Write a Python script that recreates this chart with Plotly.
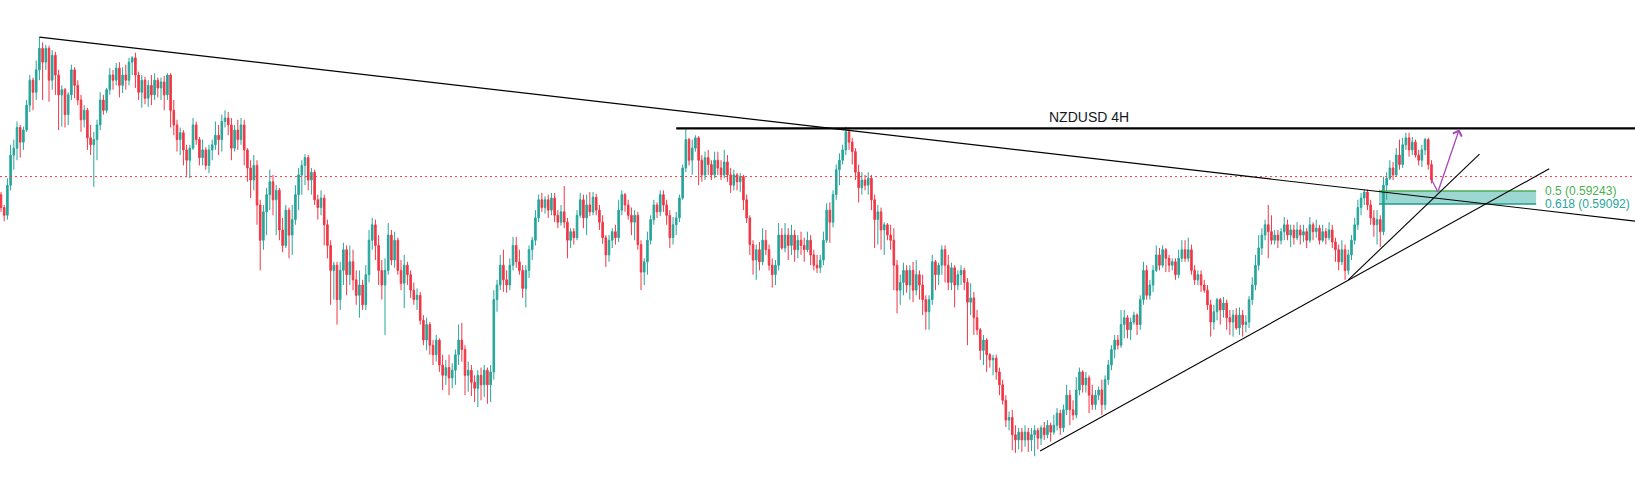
import plotly.graph_objects as go

# NZDUSD 4H candles (oldest -> newest)
opens = [
    0.5920, 0.5905, 0.5896, 0.5931, 0.5966, 0.5974, 0.5998, 0.5981, 0.5995, 0.6024,
    0.6053, 0.6039, 0.6065, 0.6090, 0.6074, 0.6090, 0.6053, 0.6082, 0.6059, 0.6036,
    0.6042, 0.6013, 0.6036, 0.6065, 0.6047, 0.6030, 0.6007, 0.6018, 0.5986, 0.5978,
    0.5984, 0.6001, 0.6030, 0.6018, 0.6042, 0.6059, 0.6053, 0.6067, 0.6047, 0.6059,
    0.6053, 0.6074, 0.6079, 0.6059, 0.6039, 0.6053, 0.6032, 0.6047, 0.6036, 0.6053,
    0.6044, 0.6051, 0.6036, 0.6059, 0.6018, 0.6001, 0.5984, 0.5992, 0.5972, 0.5960,
    0.5974, 0.6001, 0.5984, 0.5963, 0.5972, 0.5954, 0.5972, 0.5978, 0.5989, 0.5984,
    0.6005, 0.6009, 0.6001, 0.5974, 0.5995, 0.5984, 0.6001, 0.5972, 0.5951, 0.5937,
    0.5954, 0.5908, 0.5867, 0.5900, 0.5920, 0.5935, 0.5914, 0.5925, 0.5879, 0.5861,
    0.5902, 0.5873, 0.5891, 0.5920, 0.5943, 0.5954, 0.5963, 0.5937, 0.5946, 0.5914,
    0.5905, 0.5916, 0.5885, 0.5861, 0.5832, 0.5838, 0.5798, 0.5832, 0.5856, 0.5827,
    0.5842, 0.5821, 0.5803, 0.5815, 0.5792, 0.5827, 0.5867, 0.5885, 0.5861, 0.5832,
    0.5815, 0.5832, 0.5873, 0.5844, 0.5867, 0.5832, 0.5817, 0.5838, 0.5827, 0.5809,
    0.5798, 0.5803, 0.5774, 0.5751, 0.5769, 0.5745, 0.5734, 0.5751, 0.5722, 0.5710,
    0.5719, 0.5707, 0.5716, 0.5734, 0.5751, 0.5740, 0.5710, 0.5716, 0.5702, 0.5695,
    0.5710, 0.5699, 0.5716, 0.5699, 0.5714, 0.5798, 0.5815, 0.5838, 0.5821, 0.5815,
    0.5838, 0.5861, 0.5842, 0.5832, 0.5811, 0.5832, 0.5856, 0.5867, 0.5893, 0.5914,
    0.5905, 0.5914, 0.5902, 0.5916, 0.5896, 0.5888, 0.5900, 0.5888, 0.5867, 0.5877,
    0.5870, 0.5896, 0.5914, 0.5893, 0.5908, 0.5900, 0.5917, 0.5902, 0.5888, 0.5870,
    0.5850, 0.5867, 0.5877, 0.5870, 0.5902, 0.5920, 0.5908, 0.5896, 0.5888, 0.5896,
    0.5862, 0.5830, 0.5842, 0.5867, 0.5891, 0.5908, 0.5900, 0.5920, 0.5908, 0.5896,
    0.5870, 0.5885, 0.5893, 0.5916, 0.5951, 0.5984, 0.5960, 0.5974, 0.5986, 0.5960,
    0.5943, 0.5963, 0.5955, 0.5943, 0.5960, 0.5951, 0.5943, 0.5958, 0.5943, 0.5931,
    0.5943, 0.5935, 0.5941, 0.5914, 0.5893, 0.5862, 0.5844, 0.5856, 0.5842, 0.5867,
    0.5856, 0.5838, 0.5827, 0.5838, 0.5873, 0.5858, 0.5873, 0.5861, 0.5873, 0.5856,
    0.5867, 0.5861, 0.5856, 0.5867, 0.5850, 0.5838, 0.5835, 0.5844, 0.5867, 0.5902,
    0.5888, 0.5920, 0.5949, 0.5960, 0.5972, 0.5993, 0.5981, 0.5970, 0.5946, 0.5928,
    0.5937, 0.5931, 0.5939, 0.5914, 0.5891, 0.5900, 0.5879, 0.5885, 0.5873, 0.5867,
    0.5838, 0.5809, 0.5818, 0.5832, 0.5815, 0.5832, 0.5809, 0.5827, 0.5815, 0.5798,
    0.5784, 0.5798, 0.5842, 0.5827, 0.5838, 0.5856, 0.5838, 0.5818, 0.5835, 0.5815,
    0.5827, 0.5832, 0.5818, 0.5795, 0.5800, 0.5777, 0.5763, 0.5739, 0.5751, 0.5734,
    0.5728, 0.5730, 0.5714, 0.5699, 0.5681, 0.5658, 0.5661, 0.5641, 0.5635, 0.5644,
    0.5635, 0.5644, 0.5635, 0.5641, 0.5646, 0.5637, 0.5649, 0.5641, 0.5652, 0.5644,
    0.5652, 0.5666, 0.5649, 0.5670, 0.5687, 0.5670, 0.5664, 0.5693, 0.5714, 0.5699,
    0.5707, 0.5687, 0.5676, 0.5687, 0.5693, 0.5676, 0.5705, 0.5722, 0.5740, 0.5751,
    0.5745, 0.5769, 0.5777, 0.5763, 0.5772, 0.5780, 0.5769, 0.5798, 0.5832, 0.5803,
    0.5815, 0.5832, 0.5850, 0.5838, 0.5856, 0.5846, 0.5838, 0.5842, 0.5827, 0.5846,
    0.5856, 0.5846, 0.5856, 0.5832, 0.5821, 0.5827, 0.5815, 0.5809, 0.5792, 0.5772,
    0.5784, 0.5798, 0.5786, 0.5794, 0.5777, 0.5772, 0.5780, 0.5765, 0.5780, 0.5769,
    0.5772, 0.5798, 0.5815, 0.5838, 0.5858, 0.5873, 0.5885, 0.5877, 0.5867, 0.5873,
    0.5867, 0.5877, 0.5885, 0.5873, 0.5879, 0.5870, 0.5879, 0.5873, 0.5877, 0.5867,
    0.5885, 0.5877, 0.5881, 0.5867, 0.5877, 0.5870, 0.5879, 0.5865, 0.5856, 0.5842,
    0.5856, 0.5832, 0.5850, 0.5867, 0.5885, 0.5905, 0.5916, 0.5923, 0.5908, 0.5893,
    0.5885, 0.5891, 0.5877, 0.5931, 0.5939, 0.5951, 0.5943, 0.5966, 0.5955, 0.5978,
    0.5986, 0.5972, 0.5981, 0.5966, 0.5960, 0.5972, 0.5984, 0.5955,
]
highs = [
    0.5923, 0.5908, 0.5939, 0.5978, 0.5984, 0.6005, 0.6001, 0.5999, 0.6030, 0.6059,
    0.6056, 0.6076, 0.6103, 0.6097, 0.6094, 0.6093, 0.6088, 0.6086, 0.6065, 0.6047,
    0.6044, 0.6039, 0.6071, 0.6068, 0.6053, 0.6036, 0.6024, 0.6021, 0.6001, 0.5993,
    0.6007, 0.6039, 0.6036, 0.6044, 0.6067, 0.6065, 0.6073, 0.6074, 0.6068, 0.6071,
    0.6079, 0.6081, 0.6085, 0.6063, 0.6059, 0.6057, 0.6053, 0.6059, 0.6061, 0.6056,
    0.6056, 0.6058, 0.6061, 0.6061, 0.6030, 0.6007, 0.5998, 0.5995, 0.5978, 0.5978,
    0.6009, 0.6005, 0.5987, 0.5984, 0.5975, 0.5978, 0.5984, 0.6005, 0.6001, 0.6013,
    0.6018, 0.6016, 0.6009, 0.6001, 0.6007, 0.6009, 0.6007, 0.5974, 0.5960, 0.5966,
    0.5960, 0.5914, 0.5908, 0.5928, 0.5949, 0.5943, 0.5931, 0.5928, 0.5893, 0.5908,
    0.5905, 0.5908, 0.5931, 0.5951, 0.5960, 0.5967, 0.5966, 0.5951, 0.5949, 0.5920,
    0.5925, 0.5920, 0.5891, 0.5867, 0.5842, 0.5842, 0.5842, 0.5864, 0.5861, 0.5861,
    0.5856, 0.5832, 0.5832, 0.5821, 0.5838, 0.5879, 0.5893, 0.5891, 0.5873, 0.5844,
    0.5846, 0.5887, 0.5879, 0.5877, 0.5870, 0.5844, 0.5850, 0.5842, 0.5832, 0.5818,
    0.5811, 0.5807, 0.5780, 0.5777, 0.5772, 0.5751, 0.5757, 0.5753, 0.5734, 0.5728,
    0.5734, 0.5724, 0.5740, 0.5769, 0.5771, 0.5745, 0.5726, 0.5722, 0.5710, 0.5716,
    0.5719, 0.5722, 0.5719, 0.5722, 0.5809, 0.5821, 0.5850, 0.5856, 0.5832, 0.5846,
    0.5871, 0.5871, 0.5856, 0.5838, 0.5838, 0.5861, 0.5871, 0.5902, 0.5920, 0.5922,
    0.5918, 0.5920, 0.5922, 0.5922, 0.5902, 0.5908, 0.5930, 0.5893, 0.5881, 0.5881,
    0.5902, 0.5922, 0.5920, 0.5920, 0.5923, 0.5923, 0.5921, 0.5908, 0.5896, 0.5873,
    0.5873, 0.5881, 0.5885, 0.5914, 0.5925, 0.5922, 0.5914, 0.5905, 0.5902, 0.5900,
    0.5867, 0.5846, 0.5877, 0.5896, 0.5914, 0.5911, 0.5925, 0.5925, 0.5914, 0.5902,
    0.5894, 0.5900, 0.5920, 0.5955, 0.5996, 0.5986, 0.5984, 0.5989, 0.5988, 0.5966,
    0.5970, 0.5972, 0.5960, 0.5970, 0.5970, 0.5960, 0.5972, 0.5966, 0.5951, 0.5949,
    0.5945, 0.5945, 0.5943, 0.5920, 0.5896, 0.5867, 0.5862, 0.5865, 0.5881, 0.5879,
    0.5862, 0.5846, 0.5844, 0.5887, 0.5881, 0.5887, 0.5881, 0.5885, 0.5879, 0.5873,
    0.5877, 0.5870, 0.5877, 0.5873, 0.5856, 0.5850, 0.5850, 0.5877, 0.5910, 0.5911,
    0.5925, 0.5955, 0.5968, 0.5978, 0.5999, 0.5998, 0.5986, 0.5974, 0.5955, 0.5946,
    0.5943, 0.5946, 0.5943, 0.5920, 0.5908, 0.5905, 0.5888, 0.5887, 0.5885, 0.5881,
    0.5844, 0.5827, 0.5841, 0.5838, 0.5838, 0.5842, 0.5844, 0.5832, 0.5827, 0.5803,
    0.5803, 0.5850, 0.5844, 0.5841, 0.5861, 0.5861, 0.5850, 0.5841, 0.5838, 0.5832,
    0.5838, 0.5835, 0.5823, 0.5817, 0.5807, 0.5786, 0.5765, 0.5757, 0.5753, 0.5736,
    0.5734, 0.5734, 0.5719, 0.5705, 0.5687, 0.5668, 0.5670, 0.5652, 0.5649, 0.5649,
    0.5652, 0.5649, 0.5649, 0.5652, 0.5649, 0.5652, 0.5656, 0.5658, 0.5655, 0.5664,
    0.5672, 0.5670, 0.5676, 0.5699, 0.5693, 0.5681, 0.5708, 0.5719, 0.5716, 0.5714,
    0.5710, 0.5699, 0.5693, 0.5697, 0.5705, 0.5710, 0.5728, 0.5745, 0.5757, 0.5757,
    0.5786, 0.5786, 0.5780, 0.5777, 0.5784, 0.5782, 0.5803, 0.5842, 0.5838, 0.5821,
    0.5838, 0.5861, 0.5858, 0.5861, 0.5858, 0.5850, 0.5846, 0.5846, 0.5856, 0.5867,
    0.5867, 0.5870, 0.5862, 0.5838, 0.5832, 0.5832, 0.5821, 0.5815, 0.5798, 0.5792,
    0.5800, 0.5800, 0.5801, 0.5798, 0.5786, 0.5786, 0.5788, 0.5789, 0.5786, 0.5780,
    0.5802, 0.5824, 0.5850, 0.5873, 0.5881, 0.5891, 0.5908, 0.5896, 0.5879, 0.5879,
    0.5881, 0.5894, 0.5891, 0.5885, 0.5885, 0.5888, 0.5885, 0.5885, 0.5881, 0.5894,
    0.5888, 0.5891, 0.5885, 0.5885, 0.5881, 0.5888, 0.5885, 0.5870, 0.5862, 0.5867,
    0.5862, 0.5856, 0.5873, 0.5893, 0.5914, 0.5922, 0.5926, 0.5926, 0.5914, 0.5902,
    0.5902, 0.5896, 0.5941, 0.5946, 0.5960, 0.5958, 0.5974, 0.5984, 0.5986, 0.5992,
    0.5992, 0.5987, 0.5984, 0.5972, 0.5978, 0.5986, 0.5986, 0.5960,
]
lows = [
    0.5900, 0.5889, 0.5891, 0.5925, 0.5949, 0.5960, 0.5963, 0.5972, 0.5993, 0.6016,
    0.6018, 0.6030, 0.6053, 0.6030, 0.6065, 0.6028, 0.6042, 0.6036, 0.5995, 0.5999,
    0.5998, 0.6001, 0.6030, 0.6032, 0.6024, 0.5993, 0.5998, 0.5972, 0.5966, 0.5929,
    0.5960, 0.5995, 0.6013, 0.6015, 0.6036, 0.6042, 0.6047, 0.6033, 0.6038, 0.6042,
    0.6047, 0.6059, 0.6044, 0.6030, 0.6021, 0.6025, 0.6022, 0.6024, 0.6030, 0.6033,
    0.6030, 0.6018, 0.6030, 0.5998, 0.5989, 0.5970, 0.5966, 0.5954, 0.5942, 0.5939,
    0.5972, 0.5978, 0.5954, 0.5954, 0.5949, 0.5945, 0.5960, 0.5972, 0.5966, 0.5970,
    0.5998, 0.5989, 0.5960, 0.5970, 0.5972, 0.5978, 0.5954, 0.5935, 0.5916, 0.5925,
    0.5885, 0.5832, 0.5856, 0.5873, 0.5902, 0.5896, 0.5873, 0.5867, 0.5853, 0.5858,
    0.5846, 0.5850, 0.5885, 0.5902, 0.5920, 0.5931, 0.5925, 0.5920, 0.5908, 0.5891,
    0.5896, 0.5861, 0.5846, 0.5792, 0.5798, 0.5769, 0.5786, 0.5815, 0.5803, 0.5815,
    0.5809, 0.5792, 0.5777, 0.5786, 0.5786, 0.5818, 0.5856, 0.5844, 0.5815, 0.5798,
    0.5757, 0.5827, 0.5838, 0.5835, 0.5827, 0.5809, 0.5788, 0.5815, 0.5800, 0.5792,
    0.5786, 0.5769, 0.5745, 0.5739, 0.5734, 0.5722, 0.5726, 0.5714, 0.5693, 0.5699,
    0.5687, 0.5695, 0.5699, 0.5722, 0.5726, 0.5687, 0.5691, 0.5686, 0.5679, 0.5673,
    0.5681, 0.5685, 0.5677, 0.5679, 0.5705, 0.5784, 0.5809, 0.5807, 0.5806, 0.5809,
    0.5832, 0.5835, 0.5827, 0.5800, 0.5789, 0.5823, 0.5844, 0.5861, 0.5888, 0.5900,
    0.5898, 0.5893, 0.5896, 0.5888, 0.5881, 0.5884, 0.5881, 0.5846, 0.5858, 0.5862,
    0.5867, 0.5893, 0.5881, 0.5873, 0.5895, 0.5896, 0.5896, 0.5879, 0.5863, 0.5836,
    0.5842, 0.5858, 0.5862, 0.5865, 0.5896, 0.5900, 0.5891, 0.5873, 0.5867, 0.5856,
    0.5809, 0.5815, 0.5827, 0.5862, 0.5885, 0.5893, 0.5895, 0.5900, 0.5885, 0.5858,
    0.5862, 0.5873, 0.5888, 0.5914, 0.5946, 0.5954, 0.5943, 0.5970, 0.5931, 0.5935,
    0.5937, 0.5943, 0.5937, 0.5939, 0.5943, 0.5937, 0.5939, 0.5935, 0.5922, 0.5925,
    0.5925, 0.5923, 0.5902, 0.5887, 0.5850, 0.5827, 0.5821, 0.5832, 0.5838, 0.5850,
    0.5832, 0.5812, 0.5815, 0.5832, 0.5856, 0.5853, 0.5844, 0.5850, 0.5842, 0.5846,
    0.5850, 0.5842, 0.5853, 0.5838, 0.5832, 0.5829, 0.5829, 0.5838, 0.5864, 0.5864,
    0.5882, 0.5914, 0.5931, 0.5955, 0.5966, 0.5972, 0.5955, 0.5937, 0.5911, 0.5920,
    0.5925, 0.5920, 0.5902, 0.5858, 0.5862, 0.5856, 0.5850, 0.5867, 0.5856, 0.5809,
    0.5782, 0.5792, 0.5803, 0.5806, 0.5798, 0.5795, 0.5803, 0.5798, 0.5780, 0.5763,
    0.5763, 0.5792, 0.5809, 0.5815, 0.5827, 0.5818, 0.5809, 0.5809, 0.5789, 0.5809,
    0.5815, 0.5809, 0.5745, 0.5780, 0.5757, 0.5757, 0.5728, 0.5722, 0.5714, 0.5719,
    0.5710, 0.5705, 0.5687, 0.5676, 0.5650, 0.5646, 0.5623, 0.5620, 0.5624, 0.5621,
    0.5627, 0.5621, 0.5622, 0.5616, 0.5624, 0.5629, 0.5635, 0.5637, 0.5633, 0.5641,
    0.5646, 0.5641, 0.5644, 0.5664, 0.5652, 0.5658, 0.5660, 0.5687, 0.5690, 0.5690,
    0.5666, 0.5670, 0.5670, 0.5681, 0.5664, 0.5670, 0.5699, 0.5716, 0.5730, 0.5740,
    0.5742, 0.5753, 0.5753, 0.5751, 0.5769, 0.5757, 0.5763, 0.5792, 0.5798, 0.5798,
    0.5807, 0.5830, 0.5832, 0.5835, 0.5830, 0.5830, 0.5832, 0.5821, 0.5823, 0.5842,
    0.5842, 0.5842, 0.5827, 0.5815, 0.5815, 0.5807, 0.5806, 0.5786, 0.5755, 0.5763,
    0.5774, 0.5769, 0.5777, 0.5763, 0.5757, 0.5755, 0.5763, 0.5757, 0.5755, 0.5760,
    0.5765, 0.5792, 0.5809, 0.5832, 0.5850, 0.5867, 0.5846, 0.5862, 0.5862, 0.5858,
    0.5862, 0.5867, 0.5867, 0.5859, 0.5862, 0.5867, 0.5862, 0.5865, 0.5858, 0.5864,
    0.5867, 0.5870, 0.5862, 0.5865, 0.5862, 0.5867, 0.5858, 0.5842, 0.5832, 0.5838,
    0.5821, 0.5827, 0.5844, 0.5862, 0.5879, 0.5896, 0.5908, 0.5902, 0.5885, 0.5871,
    0.5862, 0.5859, 0.5873, 0.5914, 0.5937, 0.5937, 0.5941, 0.5949, 0.5951, 0.5972,
    0.5964, 0.5966, 0.5963, 0.5954, 0.5952, 0.5966, 0.5949, 0.5933,
]
closes = [
    0.5905, 0.5896, 0.5931, 0.5966, 0.5974, 0.5998, 0.5981, 0.5995, 0.6024, 0.6053,
    0.6039, 0.6065, 0.6090, 0.6074, 0.6090, 0.6053, 0.6082, 0.6059, 0.6036, 0.6042,
    0.6013, 0.6036, 0.6065, 0.6047, 0.6030, 0.6007, 0.6018, 0.5986, 0.5978, 0.5984,
    0.6001, 0.6030, 0.6018, 0.6042, 0.6059, 0.6053, 0.6067, 0.6047, 0.6059, 0.6053,
    0.6074, 0.6079, 0.6059, 0.6039, 0.6053, 0.6032, 0.6047, 0.6036, 0.6053, 0.6044,
    0.6051, 0.6036, 0.6059, 0.6018, 0.6001, 0.5984, 0.5992, 0.5972, 0.5960, 0.5974,
    0.6001, 0.5984, 0.5963, 0.5972, 0.5954, 0.5972, 0.5978, 0.5989, 0.5984, 0.6005,
    0.6009, 0.6001, 0.5974, 0.5995, 0.5984, 0.6001, 0.5972, 0.5951, 0.5937, 0.5954,
    0.5908, 0.5867, 0.5900, 0.5920, 0.5935, 0.5914, 0.5925, 0.5879, 0.5861, 0.5902,
    0.5873, 0.5891, 0.5920, 0.5943, 0.5954, 0.5963, 0.5937, 0.5946, 0.5914, 0.5905,
    0.5916, 0.5885, 0.5861, 0.5832, 0.5838, 0.5798, 0.5832, 0.5856, 0.5827, 0.5842,
    0.5821, 0.5803, 0.5815, 0.5792, 0.5827, 0.5867, 0.5885, 0.5861, 0.5832, 0.5815,
    0.5832, 0.5873, 0.5844, 0.5867, 0.5832, 0.5817, 0.5838, 0.5827, 0.5809, 0.5798,
    0.5803, 0.5774, 0.5751, 0.5769, 0.5745, 0.5734, 0.5751, 0.5722, 0.5710, 0.5719,
    0.5707, 0.5716, 0.5734, 0.5751, 0.5740, 0.5710, 0.5716, 0.5702, 0.5695, 0.5710,
    0.5699, 0.5716, 0.5699, 0.5714, 0.5798, 0.5815, 0.5838, 0.5821, 0.5815, 0.5838,
    0.5861, 0.5842, 0.5832, 0.5811, 0.5832, 0.5856, 0.5867, 0.5893, 0.5914, 0.5905,
    0.5914, 0.5902, 0.5916, 0.5896, 0.5888, 0.5900, 0.5888, 0.5867, 0.5877, 0.5870,
    0.5896, 0.5914, 0.5893, 0.5908, 0.5900, 0.5917, 0.5902, 0.5888, 0.5870, 0.5850,
    0.5867, 0.5877, 0.5870, 0.5902, 0.5920, 0.5908, 0.5896, 0.5888, 0.5896, 0.5862,
    0.5830, 0.5842, 0.5867, 0.5891, 0.5908, 0.5900, 0.5920, 0.5908, 0.5896, 0.5870,
    0.5885, 0.5893, 0.5916, 0.5951, 0.5984, 0.5960, 0.5974, 0.5986, 0.5960, 0.5943,
    0.5963, 0.5955, 0.5943, 0.5960, 0.5951, 0.5943, 0.5958, 0.5943, 0.5931, 0.5943,
    0.5935, 0.5941, 0.5914, 0.5893, 0.5862, 0.5844, 0.5856, 0.5842, 0.5867, 0.5856,
    0.5838, 0.5827, 0.5838, 0.5873, 0.5858, 0.5873, 0.5861, 0.5873, 0.5856, 0.5867,
    0.5861, 0.5856, 0.5867, 0.5850, 0.5838, 0.5835, 0.5844, 0.5867, 0.5902, 0.5888,
    0.5920, 0.5949, 0.5960, 0.5972, 0.5993, 0.5981, 0.5970, 0.5946, 0.5928, 0.5937,
    0.5931, 0.5939, 0.5914, 0.5891, 0.5900, 0.5879, 0.5885, 0.5873, 0.5867, 0.5838,
    0.5809, 0.5818, 0.5832, 0.5815, 0.5832, 0.5809, 0.5827, 0.5815, 0.5798, 0.5784,
    0.5798, 0.5842, 0.5827, 0.5838, 0.5856, 0.5838, 0.5818, 0.5835, 0.5815, 0.5827,
    0.5832, 0.5818, 0.5795, 0.5800, 0.5777, 0.5763, 0.5739, 0.5751, 0.5734, 0.5728,
    0.5730, 0.5714, 0.5699, 0.5681, 0.5658, 0.5661, 0.5641, 0.5635, 0.5644, 0.5635,
    0.5644, 0.5635, 0.5641, 0.5646, 0.5637, 0.5649, 0.5641, 0.5652, 0.5644, 0.5652,
    0.5666, 0.5649, 0.5670, 0.5687, 0.5670, 0.5664, 0.5693, 0.5714, 0.5699, 0.5707,
    0.5687, 0.5676, 0.5687, 0.5693, 0.5676, 0.5705, 0.5722, 0.5740, 0.5751, 0.5745,
    0.5769, 0.5777, 0.5763, 0.5772, 0.5780, 0.5769, 0.5798, 0.5832, 0.5803, 0.5815,
    0.5832, 0.5850, 0.5838, 0.5856, 0.5846, 0.5838, 0.5842, 0.5827, 0.5846, 0.5856,
    0.5846, 0.5856, 0.5832, 0.5821, 0.5827, 0.5815, 0.5809, 0.5792, 0.5772, 0.5784,
    0.5798, 0.5786, 0.5794, 0.5777, 0.5772, 0.5780, 0.5765, 0.5780, 0.5769, 0.5772,
    0.5798, 0.5815, 0.5838, 0.5858, 0.5873, 0.5885, 0.5877, 0.5867, 0.5873, 0.5867,
    0.5877, 0.5885, 0.5873, 0.5879, 0.5870, 0.5879, 0.5873, 0.5877, 0.5867, 0.5885,
    0.5877, 0.5881, 0.5867, 0.5877, 0.5870, 0.5879, 0.5865, 0.5856, 0.5842, 0.5856,
    0.5832, 0.5850, 0.5867, 0.5885, 0.5905, 0.5916, 0.5923, 0.5908, 0.5893, 0.5885,
    0.5891, 0.5877, 0.5931, 0.5939, 0.5951, 0.5943, 0.5966, 0.5955, 0.5978, 0.5986,
    0.5972, 0.5981, 0.5966, 0.5960, 0.5972, 0.5984, 0.5955, 0.5937,
]

# drawings: (bar index, price)
down_trend = [(12, 0.6103), (264, 0.5995)]
resistance = (211, 0.5997)
up_trend_long = [(324.7, 0.5622), (483.8, 0.5950)]
up_trend_steep = [(421, 0.5821), (462, 0.5967)]
price_line = 0.5941
fib_levels = [0.59243, 0.59092]
fib_labels = ["0.5 (0.59243)", "0.618 (0.59092)"]
fib_span = (430.6, 479.7)
projection = [(447.1, 0.5937), (449.0, 0.5923), (455.7, 0.5996)]
title_text = "NZDUSD 4H"
title_pos = (340, 0.6010)

UP = "#26a69a"
DOWN = "#f23645"
X_RANGE = [-0.3125, 510.6]
Y_RANGE = [0.55884, 0.61462]

bars = list(range(len(closes)))

fig = go.Figure()
fig.add_trace(go.Candlestick(
    x=bars, open=opens, high=highs, low=lows, close=closes,
    increasing=dict(line=dict(color=UP, width=1), fillcolor=UP),
    decreasing=dict(line=dict(color=DOWN, width=1), fillcolor=DOWN),
    whiskerwidth=0, showlegend=False, hoverinfo="skip",
))

# last price line
fig.add_hline(y=price_line, line=dict(color=DOWN, width=1, dash="2px,3px"))

# fib zone
fig.add_shape(type="rect", x0=fib_span[0], x1=fib_span[1], y0=fib_levels[1], y1=fib_levels[0],
              fillcolor="rgba(38,166,154,0.45)", line_width=0, layer="below")
fig.add_shape(type="line", x0=fib_span[0], x1=fib_span[1], y0=fib_levels[0], y1=fib_levels[0],
              line=dict(color="#4caf50", width=1.5))
fig.add_shape(type="line", x0=fib_span[0], x1=fib_span[1], y0=fib_levels[1], y1=fib_levels[1],
              line=dict(color="#1e9c88", width=1.5))
for lvl, txt, col in zip(fib_levels, fib_labels, ["#4caf50", "#26a69a"]):
    fig.add_annotation(x=fib_span[1] + 2.2, y=lvl, text=txt, showarrow=False, xanchor="left",
                       yanchor="middle", font=dict(family="Liberation Sans, Arial", size=12, color=col))

# trendlines
(xa, ya), (xb, yb) = down_trend
slope = (yb - ya) / (xb - xa)
fig.add_shape(type="line", x0=xa, y0=ya, x1=X_RANGE[1], y1=ya + slope * (X_RANGE[1] - xa),
              line=dict(color="black", width=1.2))
fig.add_shape(type="line", x0=resistance[0], y0=resistance[1], x1=X_RANGE[1], y1=resistance[1],
              line=dict(color="black", width=2.2))
for pts in (up_trend_long, up_trend_steep):
    fig.add_shape(type="line", x0=pts[0][0], y0=pts[0][1], x1=pts[1][0], y1=pts[1][1],
                  line=dict(color="black", width=1.1))

# projected move
fig.add_shape(type="line", x0=projection[0][0], y0=projection[0][1], x1=projection[1][0], y1=projection[1][1],
              line=dict(color="#ab47bc", width=1.3))
fig.add_annotation(x=projection[2][0], y=projection[2][1], ax=projection[1][0], ay=projection[1][1],
                   xref="x", yref="y", axref="x", ayref="y", text="", showarrow=True,
                   arrowhead=4, arrowsize=1.4, arrowwidth=1.3, arrowcolor="#ab47bc", standoff=0)

fig.add_annotation(x=title_pos[0], y=title_pos[1], text=title_text, showarrow=False,
                   font=dict(family="Liberation Sans, Arial", size=14, color="#131722"))

fig.update_layout(
    width=1635, height=480, margin=dict(l=0, r=0, t=0, b=0),
    paper_bgcolor="white", plot_bgcolor="white", hovermode=False, dragmode=False,
    xaxis=dict(range=X_RANGE, visible=False, rangeslider=dict(visible=False), fixedrange=True),
    yaxis=dict(range=Y_RANGE, visible=False, fixedrange=True),
)

# page body has a default 8px margin; drop it so the chart sits flush in the window
fig.write_html("out.html", config={"displayModeBar": False},
               post_script="document.body.style.margin = '0';")
